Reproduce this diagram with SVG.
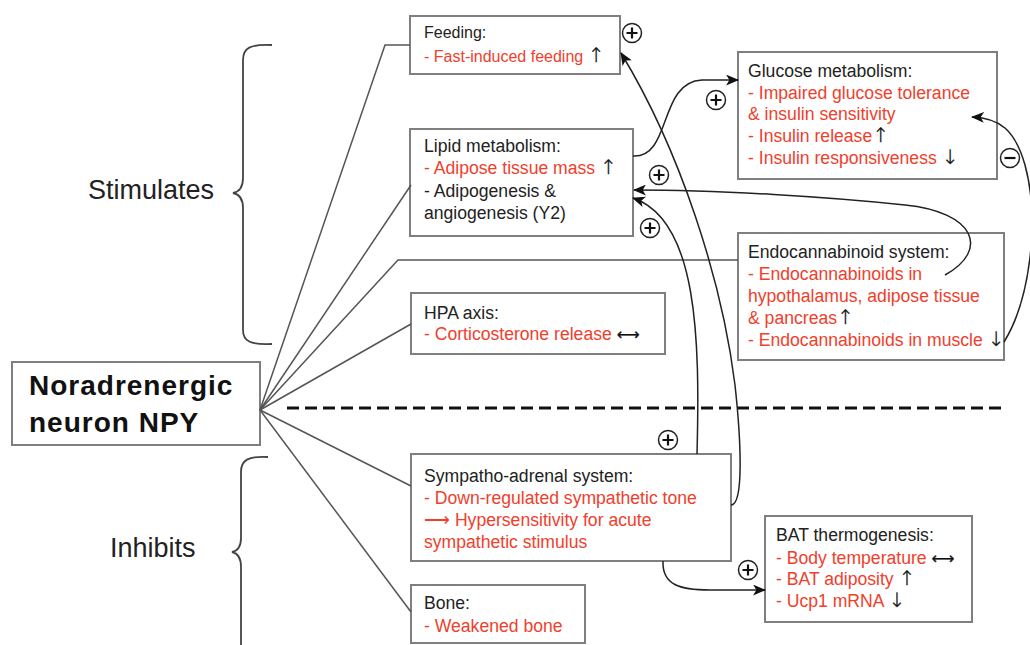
<svg xmlns="http://www.w3.org/2000/svg" width="1030" height="645" viewBox="0 0 1030 645">
<defs>
<style>
text{font-family:"Liberation Sans",Arial,sans-serif;font-size:17.6px;fill:#222}
.r{fill:#f0402c}
.k{fill:#111;stroke:#111;stroke-width:0.3;font-family:"DejaVu Sans",sans-serif;font-size:16px}
.a{fill:#111;stroke:#111;stroke-width:0.3;font-family:"DejaVu Sans",sans-serif;font-size:20px;font-weight:300}
.box{fill:#fff;stroke:#7f7f7f;stroke-width:2}
.ln{fill:none;stroke:#555;stroke-width:1.5}
.ar{fill:none;stroke:#222;stroke-width:1.5;marker-end:url(#ah)}
.brace{fill:none;stroke:#444;stroke-width:1.8}
</style>
<marker id="ah" viewBox="0 0 12 10" refX="11" refY="5" markerWidth="13" markerHeight="11" markerUnits="userSpaceOnUse" orient="auto">
<path d="M0,0 L12,5 L0,10 L3,5 Z" fill="#111"/>
</marker>
<g id="plus"><circle r="9.5" fill="#fff" stroke="#222" stroke-width="1.5"/><path d="M-5.5,0 H5.5 M0,-5.5 V5.5" stroke="#111" stroke-width="2.2"/></g>
</defs>
<rect width="1030" height="645" fill="#fff"/>

<g id="labels">
<path class="brace" d="M272,45 C250,44 243,48 243,60 L243,178 C243,188 238,192 233,193 C238,194 243,198 243,208 L243,330 C243,341 250,345 272,344"/>
<text x="88" y="199" style="font-size:27px">Stimulates</text>
<path class="brace" d="M268,457 C248,456 241,460 241,472 L241,538 C241,548 237,551 232,552 C237,553 241,557 241,567 L241,650"/>
<text x="110" y="557" style="font-size:27px">Inhibits</text>
<line x1="287" y1="408" x2="1004" y2="408" stroke="#111" stroke-width="3" stroke-dasharray="12,6"/>
</g>

<g id="npy">
<rect class="box" x="12" y="362" width="248" height="83"/>
<text x="29" y="395" style="font-size:28px;font-weight:bold;fill:#111;letter-spacing:1px">Noradrenergic</text>
<text x="29" y="432" style="font-size:28px;font-weight:bold;fill:#111;letter-spacing:1px">neuron NPY</text>
</g>

<g id="feeding">
<rect class="box" x="410" y="16" width="210" height="58"/>
<text x="424" y="38" style="font-size:16px">Feeding:</text>
<text x="424" y="62" style="font-size:16px"><tspan class="r">- Fast-induced feeding </tspan><tspan class="a">↑</tspan></text>
</g>

<g id="lipid">
<rect class="box" x="410" y="129" width="223" height="107"/>
<text x="424" y="152">Lipid metabolism:</text>
<text x="424" y="174"><tspan class="r">- Adipose tissue mass </tspan><tspan class="a">↑</tspan></text>
<text x="424" y="197">- Adipogenesis &amp;</text>
<text x="424" y="219">angiogenesis (Y2)</text>
</g>

<g id="hpa">
<rect class="box" x="411" y="293" width="254" height="61"/>
<text x="424" y="319">HPA axis:</text>
<text x="424" y="340"><tspan class="r">- Corticosterone release </tspan><tspan class="k">⟷</tspan></text>
</g>

<g id="sympatho">
<rect class="box" x="411" y="454" width="320" height="107"/>
<text x="424" y="482">Sympatho-adrenal system:</text>
<text x="424" y="504" class="r">- Down-regulated sympathetic tone</text>
<text x="424" y="526" class="r">⟶ Hypersensitivity for acute</text>
<text x="424" y="548" class="r">sympathetic stimulus</text>
</g>

<g id="bone">
<rect class="box" x="411" y="585" width="174" height="58"/>
<text x="424" y="609">Bone:</text>
<text x="424" y="632" class="r">- Weakened bone</text>
</g>

<g id="glucose">
<rect class="box" x="738" y="52" width="259" height="127"/>
<text x="748" y="77">Glucose metabolism:</text>
<text x="748" y="99" class="r">- Impaired glucose tolerance</text>
<text x="748" y="120" class="r">&amp; insulin sensitivity</text>
<text x="748" y="142"><tspan class="r">- Insulin release</tspan><tspan class="a">↑</tspan></text>
<text x="748" y="164"><tspan class="r">- Insulin responsiveness </tspan><tspan class="a">↓</tspan></text>
</g>

<g id="endocannabinoid">
<rect class="box" x="738" y="233" width="266" height="127"/>
<text x="748" y="258">Endocannabinoid system:</text>
<text x="748" y="280" class="r">- Endocannabinoids in</text>
<text x="748" y="302" class="r">hypothalamus, adipose tissue</text>
<text x="748" y="324"><tspan class="r">&amp; pancreas</tspan><tspan class="a">↑</tspan></text>
<text x="748" y="346"><tspan class="r">- Endocannabinoids in muscle </tspan><tspan class="a">↓</tspan></text>
</g>

<g id="bat">
<rect class="box" x="765" y="516" width="207" height="106"/>
<text x="776" y="541">BAT thermogenesis:</text>
<text x="776" y="564"><tspan class="r">- Body temperature  </tspan><tspan class="k">⟷</tspan></text>
<text x="776" y="585"><tspan class="r">- BAT adiposity </tspan><tspan class="a">↑</tspan></text>
<text x="776" y="607"><tspan class="r">- Ucp1 mRNA </tspan><tspan class="a">↓</tspan></text>
</g>

<g id="connectors">
<polyline class="ln" points="260,410 385,45 410,45"/>
<line class="ln" x1="260" y1="410" x2="411" y2="185"/>
<polyline class="ln" points="260,410 398,260 738,260"/>
<line class="ln" x1="260" y1="410" x2="411" y2="324"/>
<line class="ln" x1="260" y1="410" x2="411" y2="486"/>
<line class="ln" x1="260" y1="410" x2="411" y2="612"/>
<path class="ar" d="M633,156 C672,158 658,82 702,80 L738,80"/>
<path class="ar" d="M731,505 C744,505 741,440 735,385 C722,280 680,150 621,53"/>
<path class="ar" d="M697,454 C700,340 698,220 633,198"/>
<path class="ar" d="M945,275 C990,250 975,212 905,205 C830,197 720,190 634,190"/>
<path class="ar" d="M1004,342 C1030,300 1040,220 1025,165 C1015,130 1000,118 972,117"/>
<path class="ar" d="M663,561 C662,585 680,590 710,590 L765,590"/>
<use href="#plus" x="632" y="33"/>
<use href="#plus" x="716" y="100"/>
<use href="#plus" x="659" y="175"/>
<use href="#plus" x="650" y="228"/>
<use href="#plus" x="668" y="440"/>
<use href="#plus" x="748" y="570"/>
<g><circle cx="1010" cy="158" r="9.5" fill="#fff" stroke="#222" stroke-width="1.5"/><path d="M1004.5,158 H1015.5" stroke="#111" stroke-width="2.2"/></g>
</g>
</svg>
